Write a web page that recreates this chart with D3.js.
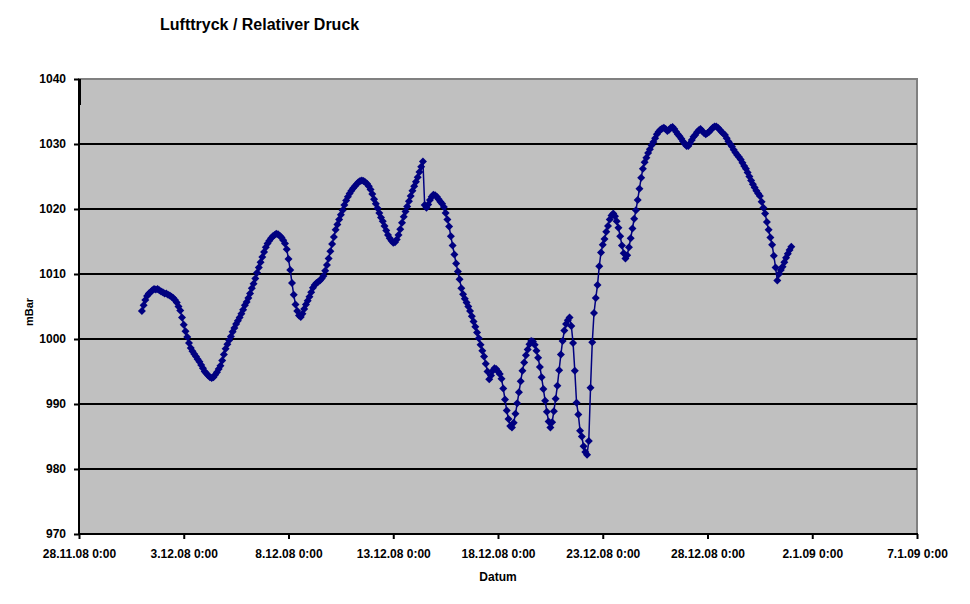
<!DOCTYPE html>
<html>
<head>
<meta charset="utf-8">
<script src="https://cdn.jsdelivr.net/npm/d3@7"></script>
<style>
    body { margin: 0; background: #ffffff; }
    text { font-family: "Liberation Sans", Arial, sans-serif; font-weight: bold; }
</style>
</head>
<body>
<div id="chart"></div>
<script>
// Messwerte alle 2 Stunden ab 1.12.08 0:00 (eine Zeile = ein Tag)
var startDatum = "1.12.08 0:00";
var stundenSchritt = 2;
var druck = [
    1004.3, 1005.2, 1006.0, 1006.6, 1007.0, 1007.2, 1007.5, 1007.7, 1007.6, 1007.7, 1007.5, 1007.3,
    1007.2, 1007.0, 1007.0, 1006.8, 1006.7, 1006.5, 1006.3, 1006.0, 1005.6, 1005.0, 1004.4, 1003.3,
    1002.2, 1001.2, 1000.3, 999.4, 998.6, 998.1, 997.7, 997.3, 996.9, 996.5, 996.0, 995.5,
    995.0, 994.7, 994.4, 994.1, 994.0, 994.1, 994.5, 994.9, 995.4, 995.9, 996.7, 997.6,
    998.5, 999.2, 999.8, 1000.4, 1001.1, 1001.7, 1002.3, 1002.8, 1003.3, 1003.9, 1004.5, 1005.2,
    1005.7, 1006.3, 1007.0, 1007.8, 1008.5, 1009.3, 1010.2, 1011.0, 1011.8, 1012.6, 1013.4, 1014.1,
    1014.7, 1015.1, 1015.5, 1015.8, 1016.0, 1016.2, 1016.1, 1015.9, 1015.6, 1015.2, 1014.7, 1013.8,
    1012.3, 1010.6, 1008.6, 1006.8, 1005.3, 1004.3, 1003.6, 1003.4, 1003.9, 1004.6, 1005.3, 1005.9,
    1006.5, 1007.2, 1007.9, 1008.3, 1008.6, 1008.8, 1009.0, 1009.3, 1009.7, 1010.5, 1011.4, 1012.4,
    1013.5, 1014.6, 1015.7, 1016.8, 1017.6, 1018.4, 1019.1, 1019.8, 1020.6, 1021.3, 1021.9, 1022.4,
    1022.8, 1023.2, 1023.5, 1023.8, 1024.1, 1024.3, 1024.4, 1024.3, 1024.1, 1023.9, 1023.5, 1023.0,
    1022.3, 1021.5, 1020.8, 1020.1, 1019.4, 1018.7, 1018.1, 1017.4, 1016.7, 1016.0, 1015.5, 1015.1,
    1014.8, 1014.9, 1015.3, 1016.0, 1016.9, 1017.9, 1018.8, 1019.6, 1020.4, 1021.2, 1022.0, 1022.8,
    1023.5, 1024.2, 1024.9, 1025.7, 1026.5, 1027.3, 1020.6, 1020.2, 1020.7, 1021.4, 1021.9, 1022.2,
    1022.1, 1021.9, 1021.5, 1021.1, 1020.8, 1020.3, 1019.4, 1018.4, 1017.3, 1015.8, 1014.4, 1013.0,
    1011.6, 1010.4, 1009.2, 1007.8, 1006.9, 1006.2, 1005.6, 1005.0, 1004.3, 1003.5, 1002.7, 1001.9,
    1001.0, 1000.1, 999.1, 998.2, 997.3, 996.2, 995.0, 993.8, 994.4, 995.1, 995.5, 995.4,
    995.0, 994.6, 993.9, 992.4, 990.7, 989.0, 987.7, 986.6, 986.4, 987.1, 988.5, 990.1,
    991.8, 993.5, 995.1, 996.4, 997.5, 998.4, 999.2, 999.7, 999.6, 999.1, 998.2, 997.1,
    995.7, 994.1, 992.3, 990.5, 988.8, 987.3, 986.4, 987.2, 988.9, 990.8, 992.8, 995.2,
    997.6, 999.7, 1001.3, 1002.3, 1002.9, 1003.3, 1002.0, 999.4, 995.1, 990.2, 988.4, 985.9,
    985.0, 983.5, 982.6, 982.2, 984.3, 992.5, 999.5, 1004.0, 1006.3, 1008.3, 1011.2, 1013.3,
    1014.5, 1015.4, 1016.5, 1017.4, 1018.4, 1019.0, 1019.3, 1018.9, 1018.1, 1017.1, 1015.8, 1014.4,
    1013.2, 1012.4, 1012.9, 1014.1, 1015.5, 1017.0, 1018.5, 1019.8, 1021.4, 1023.1, 1024.8, 1026.2,
    1027.2, 1027.9, 1028.6, 1029.2, 1029.8, 1030.3, 1030.9, 1031.5, 1031.9, 1032.2, 1032.4, 1032.5,
    1032.3, 1032.0, 1032.2, 1032.5, 1032.6, 1032.3, 1031.9, 1031.5, 1031.2, 1030.8, 1030.4, 1030.0,
    1029.7, 1029.7, 1030.1, 1030.6, 1031.1, 1031.4, 1031.8, 1032.1, 1032.3, 1032.0, 1031.7, 1031.5,
    1031.7, 1031.9, 1032.2, 1032.5, 1032.7, 1032.7, 1032.5, 1032.2, 1031.9, 1031.6, 1031.4, 1030.9,
    1030.4, 1030.0, 1029.6, 1029.1, 1028.7, 1028.3, 1028.0, 1027.6, 1027.1, 1026.6, 1026.2, 1025.6,
    1025.0, 1024.4, 1023.8, 1023.3, 1022.8, 1022.4, 1022.0, 1021.1, 1020.2, 1019.3, 1018.0, 1016.8,
    1015.6, 1014.5, 1012.8, 1011.0, 1009.0, 1010.0, 1010.6, 1011.1, 1011.8, 1012.5, 1013.1, 1013.7,
    1014.2
];

var xTickLabels = ["28.11.08 0:00", "3.12.08 0:00", "8.12.08 0:00", "13.12.08 0:00", "18.12.08 0:00",
    "23.12.08 0:00", "28.12.08 0:00", "2.1.09 0:00", "7.1.09 0:00"];
var yTicks = [970, 980, 990, 1000, 1010, 1020, 1030, 1040];

var width = 970, height = 604;
var plot = { left: 79, right: 917, top: 79, bottom: 534 };

var parse = d3.timeParse("%d.%m.%y %H:%M");
var start = parse(startDatum);
var data = druck.map(function (v, i) {
    return { t: d3.timeHour.offset(start, i * stundenSchritt), v: v };
});
var xTicks = xTickLabels.map(function (s) { return parse(s); });

var x = d3.scaleTime()
    .domain([xTicks[0], xTicks[xTicks.length - 1]])
    .range([plot.left, plot.right]);
var y = d3.scaleLinear()
    .domain([970, 1040])
    .range([plot.bottom, plot.top]);

var svg = d3.select("#chart")
    .append("svg")
    .attr("width", width)
    .attr("height", height);

// grauer Plotbereich
svg.append("rect")
    .attr("x", plot.left)
    .attr("y", plot.top)
    .attr("width", plot.right - plot.left)
    .attr("height", plot.bottom - plot.top)
    .style("fill", "#c0c0c0")
    .style("stroke", "#808080")
    .style("stroke-width", 2);

// Gitterlinien
svg.selectAll(".grid")
    .data(yTicks.filter(function (d) { return d > 970 && d < 1040; }))
    .enter()
    .append("line")
    .attr("class", "grid")
    .attr("x1", plot.left)
    .attr("x2", plot.right)
    .attr("y1", function (d) { return y(d); })
    .attr("y2", function (d) { return y(d); })
    .style("stroke", "#000000")
    .style("stroke-width", 2);

// y-Achse
var yAxis = svg.append("g")
    .attr("transform", "translate(" + plot.left + ",0)")
    .call(d3.axisLeft(y).tickValues(yTicks).tickSize(5).tickPadding(8).tickFormat(d3.format("d")));
yAxis.select(".domain").remove();
yAxis.selectAll(".tick line").style("stroke", "#000").style("stroke-width", 2);
yAxis.selectAll(".tick text").style("font-size", "12px").style("fill", "#000");

// x-Achse
var xAxis = svg.append("g")
    .attr("transform", "translate(0," + plot.bottom + ")")
    .call(d3.axisBottom(x).tickValues(xTicks).tickSize(5).tickPadding(10)
        .tickFormat(function (d, i) { return xTickLabels[i]; }));
xAxis.select(".domain").remove();
xAxis.selectAll(".tick line").style("stroke", "#000").style("stroke-width", 2);
xAxis.selectAll(".tick text").style("font-size", "12px").style("fill", "#000");

// Achsenlinien
svg.append("line")
    .attr("x1", plot.left).attr("x2", plot.left)
    .attr("y1", plot.top).attr("y2", plot.bottom + 1)
    .style("stroke", "#000").style("stroke-width", 2);
svg.append("line")
    .attr("x1", plot.left - 1).attr("x2", plot.right + 1)
    .attr("y1", plot.bottom).attr("y2", plot.bottom)
    .style("stroke", "#000").style("stroke-width", 2);
// kleiner schwarzer Strich oben links wie im Original
svg.append("line")
    .attr("x1", plot.left + 1).attr("x2", plot.left + 1)
    .attr("y1", plot.top).attr("y2", y(1036))
    .style("stroke", "#000").style("stroke-width", 2);

// Linie
var line = d3.line()
    .x(function (d) { return x(d.t); })
    .y(function (d) { return y(d.v); });

svg.append("path")
    .datum(data)
    .attr("d", line)
    .style("fill", "none")
    .style("stroke", "#000080")
    .style("stroke-width", 1.5);

// Rauten
svg.selectAll(".pt")
    .data(data)
    .enter()
    .append("path")
    .attr("class", "pt")
    .attr("d", d3.symbol().type(d3.symbolSquare).size(32))
    .attr("transform", function (d) {
        return "translate(" + x(d.t) + "," + y(d.v) + ") rotate(45)";
    })
    .style("fill", "#000080");

// Titel & Achsentitel
svg.append("text")
    .attr("x", 160)
    .attr("y", 30)
    .style("font-size", "16px")
    .text("Lufttryck / Relativer Druck");

svg.append("text")
    .attr("x", (plot.left + plot.right) / 2)
    .attr("y", 581)
    .style("text-anchor", "middle")
    .style("font-size", "12px")
    .text("Datum");

svg.append("text")
    .attr("transform", "translate(33,312) rotate(-90)")
    .style("text-anchor", "middle")
    .style("font-size", "11px")
    .text("mBar");
</script>
</body>
</html>
